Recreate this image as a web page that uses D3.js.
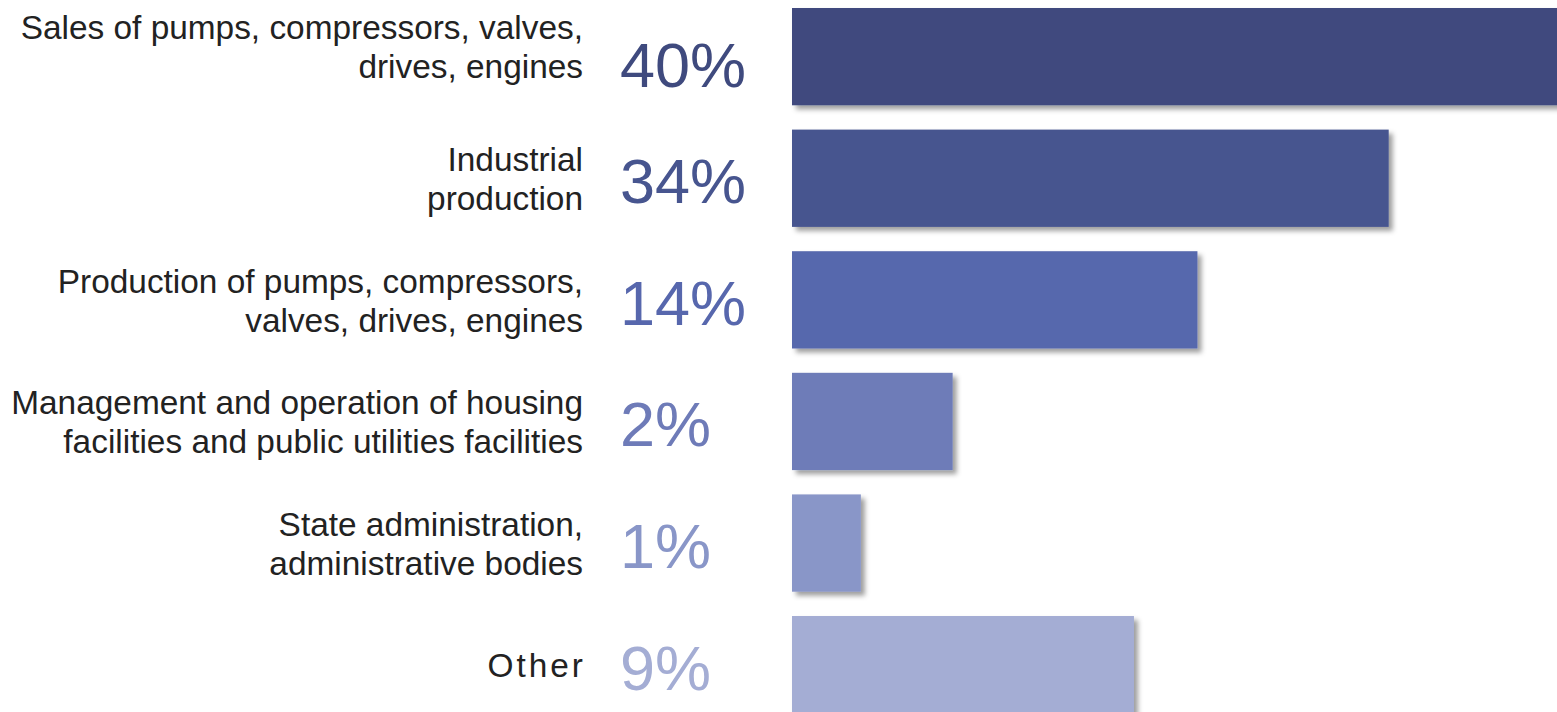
<!DOCTYPE html>
<html>
<head>
<meta charset="utf-8">
<script src="https://cdn.jsdelivr.net/npm/d3@7"></script>
<style>
  html, body { margin: 0; padding: 0; background: #fff; }
  svg { display: block; }
</style>
</head>
<body>
<script>
// ---- data ----
const categories = [
  ["Sales of pumps, compressors, valves,", "drives, engines"],
  ["Industrial", "production"],
  ["Production of pumps, compressors,", "valves, drives, engines"],
  ["Management and operation of housing", "facilities and public utilities facilities"],
  ["State administration,", "administrative bodies"],
  ["Other"]
];
const percentLabels = ["40%", "34%", "14%", "2%", "1%", "9%"];
// bar lengths as drawn (relative units, the longest bar = 100)
const barLengths = [101, 78, 53, 21, 9, 44.7];
const colors = ["#3f4a7e", "#47558f", "#5767ad", "#6e7bb8", "#8996c8", "#a4add4"];

// ---- layout ----
const W = 1557, H = 712;
const svg = d3.select("body").append("svg").attr("width", W).attr("height", H);

const defs = svg.append("defs");
const f = defs.append("filter").attr("id", "shadow")
  .attr("x", "-5%").attr("y", "-10%").attr("width", "120%").attr("height", "130%");
f.append("feDropShadow").attr("dx", 4).attr("dy", 4).attr("stdDeviation", 2.6)
  .attr("flood-color", "#000").attr("flood-opacity", 0.38);

const idx = d3.range(categories.length);
const y = d3.scaleBand().domain(idx).range([8, 713.3]).paddingInner(0.2).paddingOuter(0);
const x = d3.scaleLinear().domain([0, 100]).range([792, 1557]);

// bars
svg.append("g").selectAll("rect").data(idx).join("rect")
  .attr("x", x(0))
  .attr("y", i => y(i))
  .attr("width", i => x(barLengths[i]) - x(0))
  .attr("height", y.bandwidth())
  .attr("fill", i => colors[i])
  .attr("filter", "url(#shadow)");

// percentage labels
svg.append("g").selectAll("text").data(idx).join("text")
  .attr("x", 620)
  .attr("y", i => y(i) + y.bandwidth() / 2 + (i === 0 ? 30.5 : 25))
  .attr("fill", i => colors[i])
  .attr("font-family", "'Liberation Sans', Arial, sans-serif")
  .attr("font-size", 63)
  .text(i => percentLabels[i]);

// category labels
const lineH = 39;
const lab = svg.append("g").selectAll("text").data(idx).join("text")
  .attr("text-anchor", "end")
  .attr("fill", "#222")
  .attr("font-family", "'Liberation Sans', Arial, sans-serif")
  .attr("font-size", 33.4)
  .attr("letter-spacing", i => categories[i].length === 1 ? 3 : 0)
  .attr("transform", i => {
    const c = y(i) + y.bandwidth() / 2;
    const n = categories[i].length;
    const shift = i === 0 ? -10.5 : 0;
    const first = c - (n - 1) * lineH / 2 + 12.5 + shift;
    return `translate(${i === 5 ? 586 : 583},${first})`;
  });
lab.selectAll("tspan").data(i => categories[i]).join("tspan")
  .attr("x", 0)
  .attr("dy", (d, j) => j === 0 ? 0 : lineH)
  .text(d => d);
</script>
</body>
</html>
